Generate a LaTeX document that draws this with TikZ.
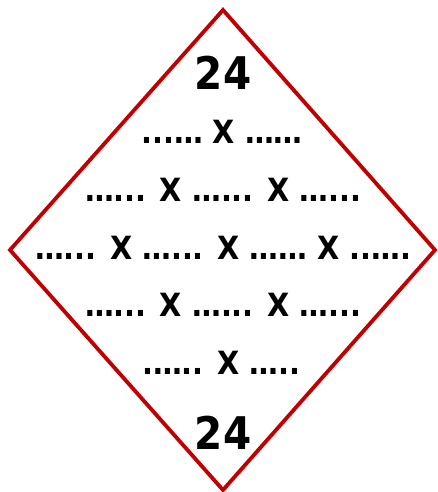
\documentclass[tikz,border=0pt]{standalone}
\usepackage{fontspec}
\setmainfont{DejaVu Sans Condensed}[BoldFont={DejaVu Sans Condensed Bold}]
\definecolor{diared}{RGB}{192,0,0}
\begin{document}
\begin{tikzpicture}[x=1pt,y=-1pt,
  num/.style={font=\bfseries\fontsize{45}{45}\selectfont, inner sep=0pt},
  row/.style={font=\bfseries\fontsize{32}{32}\selectfont, inner sep=0pt}]
\useasboundingbox (0,0) rectangle (437,492);
\coordinate (T) at (223,10);
\coordinate (R) at (435,250);
\coordinate (B) at (223,490);
\coordinate (L) at (10,250);
\draw[diared, line width=3.8pt, line join=miter] (T) -- (R) -- (B) -- (L) -- cycle;
\node[num] (n1) at (223,73) {24};
\node[row] (r1) at (222,132) {...… X ……};
\node[row] (r2) at (223,190) {…... X …... X …...};
\node[row] (r3) at (223,248) {…... X …... X …… X ..….};
\node[row] (r4) at (223,305) {…... X …... X …...};
\node[row] (r5) at (221,363) {.….. X …..};
\node[num] (n2) at (223,433) {24};
\end{tikzpicture}
\end{document}
